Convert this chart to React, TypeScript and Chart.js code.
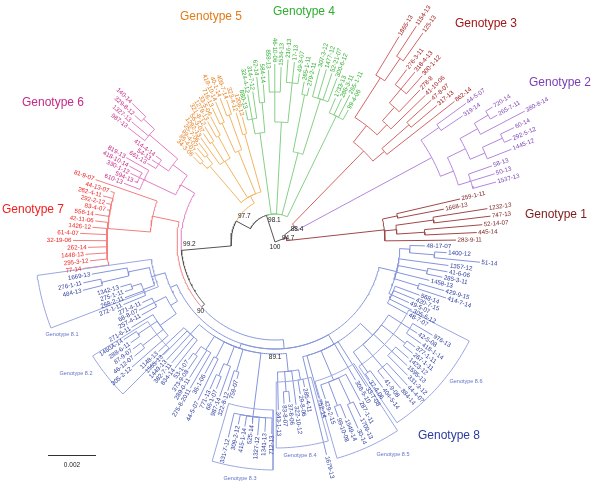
import React, { useEffect, useRef } from "react";
import { Chart, registerables } from "chart.js";

Chart.register(...registerables);

// ---------------- DATA ----------------
// Newick-like clades: leaves "label:tipRadius", inner nodes "(...)key|bootstrap:nodeRadius"
const genotype1 =
  "(283-9-11:181,((445-14:202,52-14-07:208):150,(747-13:217,1232-13:215):160):122,(1668-13:172,259-1-11:190):125)G1:110";
const genotype2 =
  "(((1537-13:229,50-13:230,58-13:230):205,((1445-12:254,(292-5-12:258,60-14:265):250):228,(380-8-14:282,(265-7-11:256,720-14:256):248):232):212):192,(319-14:226,44-5-07:236):200)G2:178";
const genotype3 =
  "((862-14:228,(317-13:212,47-8-07:211):178):142,((41-10-06:210,(278-8:210,(300-1-12:222,318-4-13:220,276-3-11:217):198):180):162,((125-13:256,1154-13:258):222,1865-13:240):195):148)G3:127";
const genotype4a = "(99-4-06:151,265-1-11:165,286-3-11:158,1733-13:156)G4:140";
const genotype4b =
  "((300-6-12:175,52-21-07:178,1477-12:180,307-3-12:179):150,(279-2-11:158,265-1-11:163):150)G4:92";
const genotype4c =
  "((49-3-07:170,17-13:181,216-13:183):160,(1534-13:175,46-10-06:178,858-13:172):150)G4:120";
const genotype4d =
  "((584-14:158,62-14:166):140,(314-7-12:152,324-4-12:150,880-13:135):125)G4:110";
const genotype5 =
  "((1208-13:129,323-4-12:135):112,((409-7-14:150,40-1-14:154):135,(418-10-14:152,716-13:148):130):98,((33-5-06:141,1279-13:138):120,(321-8-12:135,56-3-07:130):118,1292-13:128):95,((25-7-06:125,99-4-07:122):110,(95-4-07:120,34-3-06:118):108):100)G5:52";
const genotype6 =
  "((((140-14:199,329-8-12:189):180,1327-13:187,987-13:186):165,(414-4-14:147,54-13:148,661-13:150):140):128,(819-13:171,(418-10-14:164,330-1-12:160,594-13:153):150,610-13:162):145)G6:110";
const genotype7 =
  "(81-9-07:190,(44-13-07:172,262-4-11:178,292-2-12:173,83-4-07:171,556-14:182,42-11-06:181,1426-12:183,61-4-07:195,32-19-06:202,262-14:187,1448-13:190,295-3-12:186,77-14:194):168)G7:125";
const genotype8a =
  "(((1669-13:186,(276-1-11:196,484-13:198):178):150,((1342-13:161,275-1-11:158):150,268-2-11:160,272-1-11:164):140):128,((271-4-11:146,68-8-07:152,257-4-11:152):135,(271-6-11:167,(1460A-14:180,288-6-11:176):165,(87-9-07:178,46-12-07:181):168,305-2-12:190):142):122):114";
const genotype8b =
  "((1148-13:160,1565-13:159,1449-13:160,382-7-11:159,834-14:161):125,((53-1-07:146,373-9-08:154):138,289-0-11:160,275-8-2011:169):128,(36-1-06:149,44-5-07:176):130,((771-13:161,66-1-07:158):145,987-14:164):132,(322-8-12:156,759-07:142):135,(331-7-12:201,309-2-12:186,415-1-14:187,525-14:183,1327-12:194,1341-13:190,712-13:192):176,(343-1-13:168,(83-8-07:162,37-8-06:161):150,322-10-12:164,(29-8-06:154,285-4-11:148):140):130):112";
const genotype8c =
  "(1679-13:219,752-14:162,(429-2-15:165,(99-10-08:186,1549-14:190):175,(30-14:204,1709-13:195):178,287-1-11:180):150,308-5-10:160,33-7-08:171,((37-4-06:167,404-5-14:181):160,(41-9-08:175,884-14:193,44-4-07:195):165,(331-3-12:188,1595-13:181,1423-12:177):160,(267-1-11:177,377-1-11:175):165,(418-1-14:178,42-5-08:169,976-13:183):160):135):118";
const genotype8d =
  "((48-7-07:151,305-6-12:153,49-5-07:147,420-7-15:151,568-14:154):128,(414-7-14:180,429-9-15:176):150,1458-13:159,(285-3-11:171,41-6-06:175):155,1357-12:175,((51-14:206,1400-12:172):160,48-17-07:150):135):125";
const genotype8 = `(${genotype8a},${genotype8b},${genotype8c},${genotype8d})G8|89.1:107`;

const treeSource = `((${genotype1},(${genotype2},${genotype3})88.4:25)94.7:12,(${genotype4a},${genotype4b},${genotype4c},${genotype4d},(${genotype5},(${genotype6},(${genotype7},${genotype8})90:98)99.2:94)97.7:44)98.1:28)100:0`;

const genotypeKeys = ["G1", "G2", "G3", "G4", "G5", "G6", "G7", "G8"];
const genotypeTitles = ["Genotype 1", "Genotype 2", "Genotype 3", "Genotype 4", "Genotype 5", "Genotype 6", "Genotype 7", "Genotype 8"];
const subcladeTitles = ["Genotype 8.1", "Genotype 8.2", "Genotype 8.3", "Genotype 8.4", "Genotype 8.5", "Genotype 8.6"];
const subcladeAngleFrom = [188, 212, 254, 270.5, 286, 304];
const subcladeAngleTo = [201, 225, 269.5, 285, 303, 333];
const subcladeInner = [125, 150, 168, 140, 145, 150];
const subcladeOuter = [240, 215, 228, 206, 225, 218];
const scaleBarText = "0.002";
const scaleBarUnits = 48;

// ---------------- STYLE / LAYOUT ----------------
const START_ANGLE = 0.6;
const lineColors: Record<string, string> = {
  bb: "#555555",
  G1: "#a04848",
  G2: "#b585dc",
  G3: "#d46464",
  G4: "#86cf86",
  G5: "#f2b462",
  G6: "#e27cc4",
  G7: "#f47e7e",
  G8: "#8494da",
};
const textColors: Record<string, string> = {
  G1: "#7a1c1c",
  G2: "#7a3fb0",
  G3: "#a01818",
  G4: "#2fae2f",
  G5: "#e37a16",
  G6: "#c42a86",
  G7: "#f02020",
  G8: "#2c3c9c",
};
const titlePos: Record<string, [number, number]> = {
  G1: [281, 27],
  G2: [285, 159],
  G3: [211, 218],
  G4: [29, 230],
  G5: [-64, 225],
  G6: [-222, 139],
  G7: [-242, 32],
  G8: [174, -194],
};
const subcladePos: [number, number][] = [
  [-213, -92],
  [-199, -131],
  [-35, -236],
  [25, -213],
  [118, -212],
  [191, -139],
];
const bootOffsets: Record<string, [number, number]> = {
  "100": [0, 5],
  "94.7": [2, 1],
  "88.4": [2, 2],
  "98.1": [8, 5],
  "97.7": [8, -5],
  "99.2": [8, -6],
  "90": [-1, 4],
  "89.1": [-9, 9],
};
const outlineColor = "#9aa6e2";
const subcladeTextColor = "#6272c8";
const FONT = "'Liberation Sans', Arial, sans-serif";

// ---------------- TREE ----------------
type TNode = { label: string; r: number; children: TNode[]; key: string; boot: string; angle: number };

function parseTree(src: string): TNode {
  const s = src.replace(/\s+/g, "");
  let i = 0;
  const readToken = (stops: string) => {
    const b = i;
    while (i < s.length && !stops.includes(s[i])) i++;
    return s.slice(b, i);
  };
  const node = (): TNode => {
    const n: TNode = { label: "", r: 0, children: [], key: "", boot: "", angle: 0 };
    if (s[i] === "(") {
      i++;
      n.children.push(node());
      while (s[i] === ",") {
        i++;
        n.children.push(node());
      }
      i++;
    }
    const lab = readToken(":,()");
    if (s[i] === ":") {
      i++;
      n.r = parseFloat(readToken(",()"));
    }
    if (n.children.length) {
      lab.split("|").forEach((t) => {
        if (/^G\d/.test(t)) n.key = t;
        else if (t) n.boot = t;
      });
    } else n.label = lab;
    return n;
  };
  return node();
}

const polar = (r: number, a: number) => ({ x: r * Math.cos((a * Math.PI) / 180), y: r * Math.sin((a * Math.PI) / 180) });
const arcPts = (r: number, a0: number, a1: number) => {
  const n = Math.max(1, Math.ceil(Math.abs(a1 - a0) / 1));
  const out: { x: number; y: number }[] = [];
  for (let k = 0; k <= n; k++) out.push(polar(r, a0 + ((a1 - a0) * k) / n));
  return out;
};

function buildTree() {
  const root = parseTree(treeSource);
  const leaves: TNode[] = [];
  const edges: { n: TNode; p: TNode }[] = [];
  const inner: TNode[] = [];
  const walk = (n: TNode, key: string, p: TNode | null) => {
    if (!n.key) n.key = key;
    if (p) edges.push({ n, p });
    if (!n.children.length) leaves.push(n);
    else inner.push(n);
    n.children.forEach((c) => walk(c, n.key, n));
  };
  walk(root, "bb", null);
  const step = 360 / leaves.length;
  leaves.forEach((l, i) => (l.angle = START_ANGLE + i * step));
  const setAngle = (n: TNode) => {
    if (n.children.length) {
      n.children.forEach(setAngle);
      n.angle = (n.children[0].angle + n.children[n.children.length - 1].angle) / 2;
    }
  };
  setAngle(root);
  return { root, leaves, edges, inner };
}

export default function App() {
  const ref = useRef<HTMLCanvasElement>(null);
  useEffect(() => {
    document.body.style.margin = "0";
    const { leaves, edges, inner } = buildTree();
    const segs: Record<string, any[]> = {};
    edges.forEach(({ n, p }) => {
      const pts = p.r > 0 ? arcPts(p.r, p.angle, n.angle) : [polar(0, 0)];
      pts.push(polar(n.r, n.angle));
      (segs[n.key] = segs[n.key] || []).push(...pts, { x: 0, y: null });
    });
    const outline: any[] = [];
    subcladeTitles.forEach((_, i) => {
      const a0 = subcladeAngleFrom[i], a1 = subcladeAngleTo[i];
      const pts = [...arcPts(subcladeInner[i], a0, a1), ...arcPts(subcladeOuter[i], a1, a0)];
      pts.push(pts[0]);
      outline.push(...pts, { x: 0, y: null });
    });
    const datasets: any[] = Object.keys(segs).map((k) => ({
      data: segs[k],
      borderColor: lineColors[k],
      borderWidth: 1,
      pointRadius: 0,
      spanGaps: false,
      fill: false,
      tension: 0,
    }));
    datasets.unshift({ data: outline, borderColor: outlineColor, borderWidth: 1, pointRadius: 0, spanGaps: false, fill: false, tension: 0 });

    const textPlugin = {
      id: "treeText",
      afterDatasetsDraw(chart: any) {
        const ctx = chart.ctx as CanvasRenderingContext2D;
        const X = (v: number) => chart.scales.x.getPixelForValue(v);
        const Y = (v: number) => chart.scales.y.getPixelForValue(v);
        ctx.save();
        ctx.font = `6.2px ${FONT}`;
        ctx.textBaseline = "middle";
        leaves.forEach((l) => {
          const p = polar(l.r + 1.5, l.angle);
          const a = ((l.angle % 360) + 360) % 360;
          const flip = a > 90 && a < 270;
          ctx.save();
          ctx.translate(X(p.x), Y(p.y));
          ctx.rotate((-(flip ? a - 180 : a) * Math.PI) / 180);
          ctx.textAlign = flip ? "right" : "left";
          ctx.fillStyle = textColors[l.key] || "#333";
          ctx.fillText(l.label, 0, 0);
          ctx.restore();
        });
        ctx.font = `6.5px ${FONT}`;
        ctx.fillStyle = "#222";
        ctx.textAlign = "center";
        inner.forEach((n) => {
          if (!n.boot) return;
          const p = polar(n.r, n.angle);
          const off = bootOffsets[n.boot] || [0, 0];
          ctx.fillText(n.boot, X(p.x) + off[0], Y(p.y) + off[1]);
        });
        ctx.font = `12px ${FONT}`;
        genotypeKeys.forEach((k, i) => {
          ctx.fillStyle = textColors[k];
          ctx.fillText(genotypeTitles[i], X(titlePos[k][0]), Y(titlePos[k][1]));
        });
        ctx.font = `5.5px ${FONT}`;
        ctx.fillStyle = subcladeTextColor;
        subcladeTitles.forEach((t, i) => ctx.fillText(t, X(subcladePos[i][0]), Y(subcladePos[i][1])));
        // scale bar
        const sx0 = -227, sy = -213;
        ctx.strokeStyle = "#333";
        ctx.lineWidth = 1;
        ctx.beginPath();
        ctx.moveTo(X(sx0), Math.round(Y(sy)) + 0.5);
        ctx.lineTo(X(sx0 + scaleBarUnits), Math.round(Y(sy)) + 0.5);
        ctx.stroke();
        ctx.fillStyle = "#222";
        ctx.font = `6.5px ${FONT}`;
        ctx.fillText(scaleBarText, X(sx0 + scaleBarUnits / 2), Y(sy - 10));
        ctx.restore();
      },
    };

    const chart = new Chart(ref.current as HTMLCanvasElement, {
      type: "line",
      data: { datasets },
      options: {
        animation: false,
        responsive: false,
        events: [],
        layout: { padding: 0, autoPadding: false },
        plugins: { legend: { display: false }, tooltip: { enabled: false }, title: { display: false } },
        scales: {
          x: { type: "linear", min: -275, max: 325, display: false },
          y: { type: "linear", min: -245, max: 242, display: false },
        },
      },
      plugins: [textPlugin],
    } as any);
    return () => chart.destroy();
  }, []);
  return (
    <div style={{ width: 600, height: 487, background: "#fff" }}>
      <canvas ref={ref} width={600} height={487} style={{ display: "block" }} />
    </div>
  );
}
